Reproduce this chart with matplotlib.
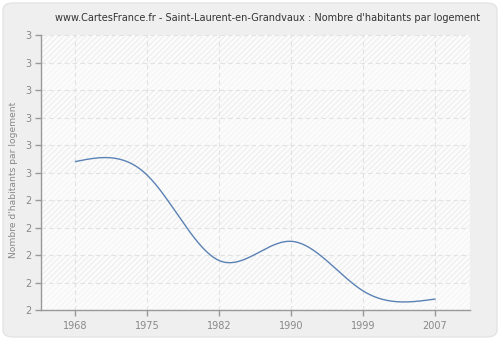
import numpy as np
import matplotlib
matplotlib.use("Agg")
import matplotlib.pyplot as plt
from matplotlib.patches import FancyBboxPatch, Rectangle

years = ["1968", "1975", "1982", "1990", "1999", "2007"]
values = [2.54, 2.49, 2.18, 2.25, 2.07, 2.04]
ytick_values = [2.0, 2.1, 2.2, 2.3, 2.4, 2.5, 2.6, 2.7, 2.8, 2.9, 3.0]
ytick_labels = ["2", "2", "2", "2", "2", "3", "3", "3", "3", "3", "3"]
title = "www.CartesFrance.fr - Saint-Laurent-en-Grandvaux : Nombre d'habitants par logement"
ylabel = "Nombre d'habitants par logement"


def natural_spline(x, y, xs):
    x = np.asarray(x, float); y = np.asarray(y, float)
    n = len(x)
    h = np.diff(x)
    A = np.zeros((n, n)); b = np.zeros(n)
    A[0, 0] = 1; A[-1, -1] = 1
    for i in range(1, n - 1):
        A[i, i - 1] = h[i - 1]
        A[i, i] = 2 * (h[i - 1] + h[i])
        A[i, i + 1] = h[i]
        b[i] = 3 * ((y[i + 1] - y[i]) / h[i] - (y[i] - y[i - 1]) / h[i - 1])
    c = np.linalg.solve(A, b)
    out = np.empty_like(xs)
    for j, t in enumerate(xs):
        i = min(max(np.searchsorted(x, t) - 1, 0), n - 2)
        bi = (y[i + 1] - y[i]) / h[i] - h[i] * (2 * c[i] + c[i + 1]) / 3
        di = (c[i + 1] - c[i]) / (3 * h[i])
        dt = t - x[i]
        out[j] = y[i] + bi * dt + c[i] * dt ** 2 + di * dt ** 3
    return out


fig = plt.figure(figsize=(5, 3.4), dpi=100)
fig.patch.set_facecolor("white")
fig.patches.append(FancyBboxPatch((0.006, 0.009), 0.988, 0.982,
                                  boxstyle="round,pad=0,rounding_size=0.02",
                                  transform=fig.transFigure, facecolor="#efefef",
                                  edgecolor="#e4e4e4", linewidth=1.0, zorder=-10))

ax = fig.add_axes([0.082, 0.088, 0.858, 0.809])
ax.set_facecolor("#fcfcfc")
ax.set_xlim(-0.48, 5.49)
ax.set_ylim(2.0, 3.0)

# alternating hatched bands
for k in range(10):
    lo = ytick_values[9 - k]
    col = "#f0f0f0" if k % 2 == 0 else "#f6f6f6"
    r = Rectangle((-0.48, lo), 5.97, 0.1, facecolor="none", edgecolor=col,
                  hatch="//////", linewidth=0, zorder=0)
    ax.add_patch(r)

xpos = np.arange(len(years))
xs = np.linspace(0, len(years) - 1, 400)
ax.plot(xs, natural_spline(xpos, values, xs), color="#5b82b5", linewidth=1.0, zorder=3)

ax.set_xticks(xpos)
ax.set_xticklabels(years)
ax.set_yticks(ytick_values)
ax.set_yticklabels(ytick_labels)
ax.grid(True, color="#e2e2e2", linestyle=(0, (4, 3)), linewidth=0.8, zorder=1)
ax.set_axisbelow(True)

for s in ["top", "right"]:
    ax.spines[s].set_visible(False)
for s in ["left", "bottom"]:
    ax.spines[s].set_color("#999999")
    ax.spines[s].set_linewidth(1.0)
ax.tick_params(axis="both", colors="#999999", labelcolor="#888888", labelsize=7,
               length=4, width=1.0)
ax.tick_params(axis="x", pad=4)
ax.tick_params(axis="y", pad=3)

ax.set_ylabel(ylabel, fontsize=6.6, color="#888888")
ax.yaxis.set_label_coords(-0.054, 0.473)
fig.text(0.535, 0.948, title, ha="center", va="center", fontsize=7, color="#333333")

fig.savefig("out.png", dpi=100, facecolor=fig.get_facecolor())
